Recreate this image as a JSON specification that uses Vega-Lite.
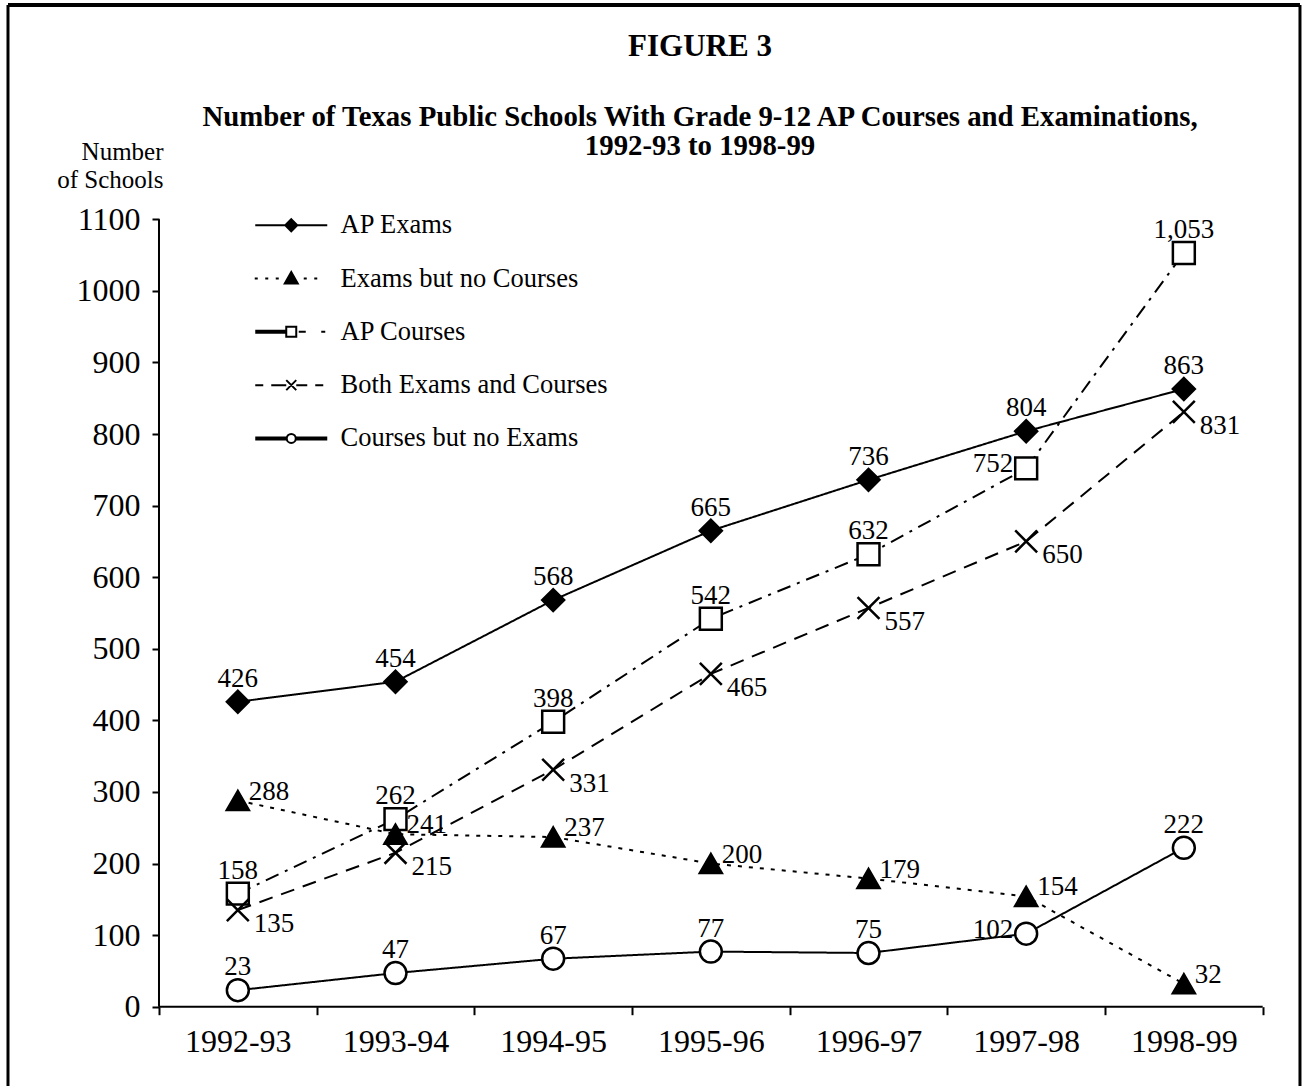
{
  "$schema": "https://vega.github.io/schema/vega-lite/v6.json",
  "width": 1304,
  "height": 1086,
  "padding": 0,
  "autosize": {"type": "none"},
  "background": "white",
  "config": {"view": {"stroke": null}, "font": "Liberation Serif", "axis": {"grid": false}},
  "title": {
    "text": "FIGURE 3",
    "subtitle": ["Number of Texas Public Schools With Grade 9-12 AP Courses and Examinations,", "1992-93 to 1998-99"],
    "anchor": "middle",
    "frame": "group",
    "offset": -162,
    "dx": 48,
    "font": "Liberation Serif",
    "fontSize": 31,
    "fontWeight": "bold",
    "color": "black",
    "subtitleFont": "Liberation Serif",
    "subtitleFontSize": 28.8,
    "subtitleFontWeight": "bold",
    "subtitleColor": "black",
    "subtitlePadding": 40,
    "subtitleLineHeight": 29.5
  },
  "datasets": {
    "ap": [
      {"year": "1992-93", "i": 0, "series": "AP Exams", "value": 426},
      {"year": "1993-94", "i": 1, "series": "AP Exams", "value": 454},
      {"year": "1994-95", "i": 2, "series": "AP Exams", "value": 568},
      {"year": "1995-96", "i": 3, "series": "AP Exams", "value": 665},
      {"year": "1996-97", "i": 4, "series": "AP Exams", "value": 736},
      {"year": "1997-98", "i": 5, "series": "AP Exams", "value": 804},
      {"year": "1998-99", "i": 6, "series": "AP Exams", "value": 863},
      {"year": "1992-93", "i": 0, "series": "AP Courses", "value": 158},
      {"year": "1993-94", "i": 1, "series": "AP Courses", "value": 262},
      {"year": "1994-95", "i": 2, "series": "AP Courses", "value": 398},
      {"year": "1995-96", "i": 3, "series": "AP Courses", "value": 542},
      {"year": "1996-97", "i": 4, "series": "AP Courses", "value": 632},
      {"year": "1997-98", "i": 5, "series": "AP Courses", "value": 752},
      {"year": "1998-99", "i": 6, "series": "AP Courses", "value": 1053},
      {"year": "1992-93", "i": 0, "series": "Both Exams and Courses", "value": 135},
      {"year": "1993-94", "i": 1, "series": "Both Exams and Courses", "value": 215},
      {"year": "1994-95", "i": 2, "series": "Both Exams and Courses", "value": 331},
      {"year": "1995-96", "i": 3, "series": "Both Exams and Courses", "value": 465},
      {"year": "1996-97", "i": 4, "series": "Both Exams and Courses", "value": 557},
      {"year": "1997-98", "i": 5, "series": "Both Exams and Courses", "value": 650},
      {"year": "1998-99", "i": 6, "series": "Both Exams and Courses", "value": 831},
      {"year": "1992-93", "i": 0, "series": "Courses but no Exams", "value": 23},
      {"year": "1993-94", "i": 1, "series": "Courses but no Exams", "value": 47},
      {"year": "1994-95", "i": 2, "series": "Courses but no Exams", "value": 67},
      {"year": "1995-96", "i": 3, "series": "Courses but no Exams", "value": 77},
      {"year": "1996-97", "i": 4, "series": "Courses but no Exams", "value": 75},
      {"year": "1997-98", "i": 5, "series": "Courses but no Exams", "value": 102},
      {"year": "1998-99", "i": 6, "series": "Courses but no Exams", "value": 222},
      {"year": "1992-93", "i": 0, "series": "Exams but no Courses", "value": 288},
      {"year": "1993-94", "i": 1, "series": "Exams but no Courses", "value": 241},
      {"year": "1994-95", "i": 2, "series": "Exams but no Courses", "value": 237},
      {"year": "1995-96", "i": 3, "series": "Exams but no Courses", "value": 200},
      {"year": "1996-97", "i": 4, "series": "Exams but no Courses", "value": 179},
      {"year": "1997-98", "i": 5, "series": "Exams but no Courses", "value": 154},
      {"year": "1998-99", "i": 6, "series": "Exams but no Courses", "value": 32}
    ]
  },
  "data": {"name": "ap"},
  "layer": [
    {
      "mark": {"type": "line", "color": "black", "strokeWidth": 2},
      "encoding": {
        "x": {
          "field": "i", "type": "quantitative",
          "scale": {"domain": [-1.5084, 6.7621], "nice": false, "zero": false},
          "axis": {
            "title": null, "offset": -79.3, "domain": false, "grid": false,
            "values": [-0.5, 0.5, 1.5, 2.5, 3.5, 4.5, 5.5, 6.5],
            "labelExpr": "datum.value < 6 ? ['1992-93','1993-94','1994-95','1995-96','1996-97','1997-98','1998-99'][round(datum.value + 0.5)] : ''",
            "labelOffset": 78.8, "labelAlign": "center", "labelBaseline": "top",
            "labelFlush": false, "labelOverlap": false, "labelBound": false,
            "labelFont": "Liberation Serif", "labelFontSize": 32, "labelColor": "black", "labelPadding": 12,
            "tickSize": 8, "tickWidth": 2, "tickColor": "black"
          }
        },
        "y": {
          "field": "value", "type": "quantitative",
          "scale": {"domain": [-110.8, 1406.4], "nice": false, "zero": false},
          "axis": {
            "title": ["Number", "of Schools"], "titleAngle": 0, "titleAlign": "right", "titleBaseline": "alphabetic",
            "titleX": 4, "titleY": 159, "titleFont": "Liberation Serif", "titleFontSize": 25, "titleFontWeight": "normal",
            "titleColor": "black", "titleLineHeight": 28,
            "offset": -159, "domain": false, "grid": false, "format": "d",
            "values": [0, 100, 200, 300, 400, 500, 600, 700, 800, 900, 1000, 1100],
            "labelFont": "Liberation Serif", "labelFontSize": 32, "labelColor": "black", "labelPadding": 12,
            "labelFlush": false, "labelOverlap": false, "labelBound": false,
            "tickSize": 7, "tickWidth": 2, "tickColor": "black"
          }
        },
        "strokeDash": {
          "field": "series", "type": "nominal",
          "scale": {
            "domain": ["AP Exams", "Exams but no Courses", "AP Courses", "Both Exams and Courses", "Courses but no Exams"],
            "range": [[1, 0], [4, 7], [14, 7, 3, 7], [14, 9], [1, 0]]
          },
          "legend": null
        }
      }
    },
    {
      "mark": {"type": "point", "filled": true, "stroke": "black", "strokeWidth": 2.5, "size": 480, "opacity": 1},
      "encoding": {
        "x": {"field": "i", "type": "quantitative"},
        "y": {"field": "value", "type": "quantitative"},
        "shape": {
          "field": "series", "type": "nominal",
          "scale": {
            "domain": ["AP Exams", "Exams but no Courses", "AP Courses", "Both Exams and Courses", "Courses but no Exams"],
            "range": ["diamond", "triangle-up", "square", "M-1,-1L1,1M1,-1L-1,1", "circle"]
          },
          "legend": null
        },
        "fill": {
          "field": "series", "type": "nominal",
          "scale": {
            "domain": ["AP Exams", "Exams but no Courses", "AP Courses", "Both Exams and Courses", "Courses but no Exams"],
            "range": ["black", "black", "white", "white", "white"]
          },
          "legend": null
        }
      }
    },
    {
      "transform": [{"filter": "datum.series == 'AP Exams' || ((datum.series == 'AP Courses' || datum.series == 'Courses but no Exams') && datum.year != '1997-98')"}],
      "mark": {"type": "text", "color": "black", "fontSize": 27, "align": "center", "baseline": "alphabetic", "dy": -15},
      "encoding": {
        "x": {"field": "i", "type": "quantitative"},
        "y": {"field": "value", "type": "quantitative"},
        "text": {"field": "value", "type": "quantitative", "format": ","}
      }
    },
    {
      "transform": [{"filter": "datum.series == 'Exams but no Courses'"}],
      "mark": {"type": "text", "color": "black", "fontSize": 27, "align": "left", "baseline": "alphabetic", "dx": 11, "dy": -1},
      "encoding": {
        "x": {"field": "i", "type": "quantitative"},
        "y": {"field": "value", "type": "quantitative"},
        "text": {"field": "value", "type": "quantitative", "format": ","}
      }
    },
    {
      "transform": [{"filter": "datum.series == 'Both Exams and Courses'"}],
      "mark": {"type": "text", "color": "black", "fontSize": 27, "align": "left", "baseline": "alphabetic", "dx": 16, "dy": 22},
      "encoding": {
        "x": {"field": "i", "type": "quantitative"},
        "y": {"field": "value", "type": "quantitative"},
        "text": {"field": "value", "type": "quantitative", "format": ","}
      }
    },
    {
      "transform": [{"filter": "datum.year == '1997-98' && (datum.series == 'AP Courses' || datum.series == 'Courses but no Exams')"}],
      "mark": {"type": "text", "color": "black", "fontSize": 27, "align": "right", "baseline": "alphabetic", "dx": -13, "dy": 4},
      "encoding": {
        "x": {"field": "i", "type": "quantitative"},
        "y": {"field": "value", "type": "quantitative"},
        "text": {"field": "value", "type": "quantitative", "format": ","}
      }
    },
    {
      "mark": {"type": "point", "filled": true, "stroke": "black", "opacity": 0},
      "encoding": {
        "x": {"field": "i", "type": "quantitative"},
        "y": {"field": "value", "type": "quantitative"},
        "shape": {
          "field": "series", "type": "nominal",
          "scale": {
            "domain": ["AP Exams", "Exams but no Courses", "AP Courses", "Both Exams and Courses", "Courses but no Exams"],
            "range": [
              "M-3.6,0L3.6,0M0,-0.6L0.6,0L0,0.6L-0.6,0Z",
              "M-3.65,0L-3.35,0M-2.6,0L-2.3,0M-1.55,0L-1.25,0M1.25,0L1.55,0M2.3,0L2.6,0M0,-0.65L0.65,0.5L-0.65,0.5Z",
              "M-3.6,-0.1L-0.5,-0.1M-3.6,0.1L-0.5,0.1M0.75,0L1.45,0M3.0,0L3.4,0M-0.5,-0.5L0.5,-0.5L0.5,0.5L-0.5,0.5Z",
              "M-3.6,0L-2.8,0M-2.0,0L-0.5,0M0.5,0L1.6,0M2.4,0L3.2,0M-0.5,-0.5L0.5,0.5M0.5,-0.5L-0.5,0.5",
              "M-3.6,-0.1L-0.45,-0.1M-3.6,0.1L-0.45,0.1M0.45,-0.1L3.6,-0.1M0.45,0.1L3.6,0.1M-0.45,0A0.45,0.45 0 1,0 0.45,0A0.45,0.45 0 1,0 -0.45,0Z"
            ]
          },
          "legend": {
            "title": null, "orient": "none", "legendX": 278, "legendY": 212,
            "labelFont": "Liberation Serif", "labelFontSize": 26.5, "labelColor": "black", "labelOffset": 36, "labelLimit": 600,
            "symbolSize": 400, "symbolStrokeWidth": 2, "symbolStrokeColor": "black", "symbolOpacity": 1, "rowPadding": 26.3,
            "encode": {"symbols": {"update": {"stroke": {"value": "black"}, "strokeWidth": {"value": 2}, "opacity": {"value": 1}}}}
          }
        },
        "fill": {
          "field": "series", "type": "nominal",
          "scale": {
            "domain": ["AP Exams", "Exams but no Courses", "AP Courses", "Both Exams and Courses", "Courses but no Exams"],
            "range": ["black", "black", "white", "white", "white"]
          },
          "legend": {
            "title": null, "orient": "none", "legendX": 278, "legendY": 212,
            "labelFont": "Liberation Serif", "labelFontSize": 26.5, "labelColor": "black", "labelOffset": 36, "labelLimit": 600,
            "symbolSize": 400, "symbolStrokeWidth": 2, "symbolStrokeColor": "black", "symbolOpacity": 1, "rowPadding": 26.3,
            "encode": {"symbols": {"update": {"stroke": {"value": "black"}, "strokeWidth": {"value": 2}, "opacity": {"value": 1}}}}
          }
        }
      }
    },
    {
      "data": {"values": [{}]},
      "mark": {"type": "rule", "color": "black", "strokeWidth": 2},
      "encoding": {"x": {"datum": -0.5, "type": "quantitative"}, "y": {"datum": 0, "type": "quantitative"}, "y2": {"datum": 1100}}
    },
    {
      "data": {"values": [{}]},
      "mark": {"type": "rule", "color": "black", "strokeWidth": 2},
      "encoding": {"x": {"datum": -0.5, "type": "quantitative"}, "x2": {"datum": 6.5}, "y": {"datum": 0, "type": "quantitative"}}
    },
    {
      "data": {"values": [{}]},
      "mark": {"type": "rule", "color": "black", "strokeWidth": 3},
      "encoding": {"x": {"datum": -1.4577, "type": "quantitative"}, "y": {"datum": 1399.4, "type": "quantitative"}, "y2": {"datum": -110.8}}
    },
    {
      "data": {"values": [{}]},
      "mark": {"type": "rule", "color": "black", "strokeWidth": 4},
      "encoding": {"x": {"datum": -1.4577, "type": "quantitative"}, "x2": {"datum": 6.7366}, "y": {"datum": 1399.4, "type": "quantitative"}}
    },
    {
      "data": {"values": [{}]},
      "mark": {"type": "rule", "color": "black", "strokeWidth": 3},
      "encoding": {"x": {"datum": 6.7366, "type": "quantitative"}, "y": {"datum": 1399.4, "type": "quantitative"}, "y2": {"datum": -110.8}}
    }
  ],
  "resolve": {"scale": {"shape": "independent", "fill": "independent"}}
}
